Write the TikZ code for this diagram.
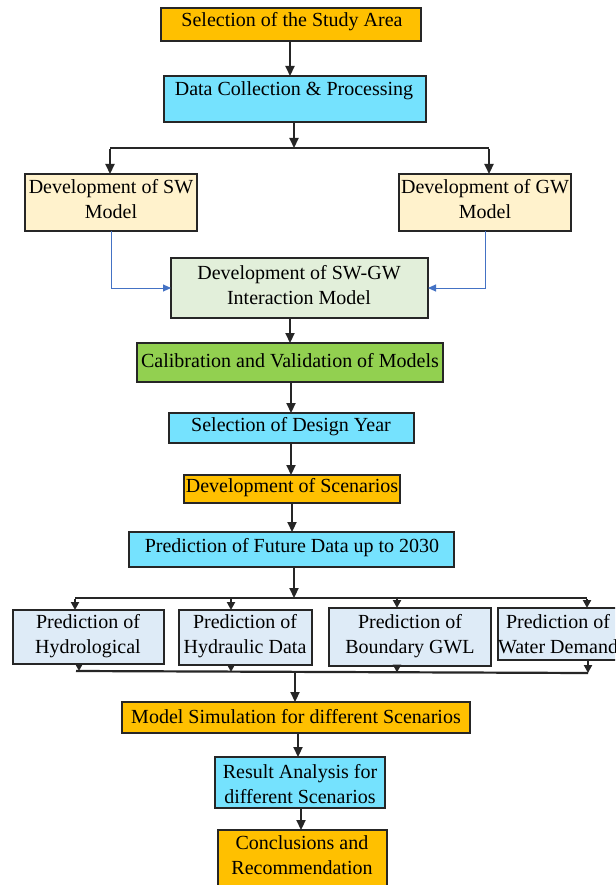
\documentclass[tikz,border=0pt]{standalone}
\usepackage{fontspec}
\setmainfont{Liberation Serif}
\usetikzlibrary{arrows.meta,calc}
\definecolor{orng}{HTML}{FFC000}
\definecolor{cyanbox}{HTML}{75E2FE}
\definecolor{creambox}{HTML}{FFF2CC}
\definecolor{greenlt}{HTML}{E2EFDA}
\definecolor{greenmd}{HTML}{92D050}
\definecolor{bluelt}{HTML}{DEEBF7}
\definecolor{bluearr}{HTML}{4472C4}
\definecolor{edge}{HTML}{262626}
\begin{document}
\begin{tikzpicture}[x=1pt,y=-1pt,
 box/.style={draw=edge,line width=1.3pt,inner sep=0pt,outer sep=0pt},
 txt/.style={font=\fontsize{20}{25}\selectfont,align=center,inner sep=0pt,text=black},
 arr/.style={draw=edge,line width=2.2pt,-{Triangle[length=10pt,width=9pt]}},
 sarr/.style={draw=edge,line width=2pt,-{Triangle[length=8pt,width=8pt]}},
 ln/.style={draw=edge,line width=2.6pt},
 barr/.style={draw=bluearr,line width=0.9pt,-{Triangle[length=8pt,width=7pt]}}]
\useasboundingbox (0,0) rectangle (615,885);
\fill[white] (0,0) rectangle (615,885);
\clip (0,0) rectangle (615,885);
% boxes
\node[box,fill=orng,minimum width=260pt,minimum height=33pt] (b1) at (291,24.5) {};
\node[box,fill=cyanbox,minimum width=262pt,minimum height=46pt] (b2) at (295,99) {};
\node[box,fill=creambox,minimum width=172pt,minimum height=57pt] (bsw) at (111,202.5) {};
\node[box,fill=creambox,minimum width=172pt,minimum height=57pt] (bgw) at (485,202.5) {};
\node[box,fill=greenlt,minimum width=257pt,minimum height=60pt] (bint) at (299.5,288) {};
\node[box,fill=greenmd,minimum width=306pt,minimum height=39pt] (bcal) at (290,362.5) {};
\node[box,fill=cyanbox,minimum width=245pt,minimum height=30pt] (byear) at (291.5,428) {};
\node[box,fill=orng,minimum width=216pt,minimum height=28pt] (bscen) at (292,489) {};
\node[box,fill=cyanbox,minimum width=325pt,minimum height=35pt] (bfut) at (291.5,549.5) {};
\node[box,fill=bluelt,minimum width=151pt,minimum height=54pt] (p1) at (88.5,637) {};
\node[box,fill=bluelt,minimum width=133pt,minimum height=55pt] (p2) at (245.5,637.5) {};
\node[box,fill=bluelt,minimum width=162pt,minimum height=58pt] (p3) at (410,637) {};
\node[box,fill=bluelt,minimum width=120pt,minimum height=52pt] (p4) at (558,634) {};
\node[box,fill=orng,minimum width=348pt,minimum height=31pt] (bsim) at (296,717.5) {};
\node[box,fill=cyanbox,minimum width=170pt,minimum height=51pt] (bres) at (300,782.5) {};
\node[box,fill=orng,minimum width=169pt,minimum height=65pt] (bcon) at (302.5,862.5) {};
% texts
\node[txt] (t1) at (292,22) {Selection of the Study Area};
\node[txt] (t2) at (294,91) {Data Collection \& Processing};
\node[txt] (tsw) at (111,199) {Development of SW\\Model};
\node[txt] (tgw) at (485,199) {Development of GW\\Model};
\node[txt] (tint) at (299,285) {Development of SW-GW\\Interaction Model};
\node[txt] (tcal) at (290,361) {Calibration and Validation of Models};
\node[txt] (tyear) at (291,427) {Selection of Design Year};
\node[txt] (tscen) at (292,488) {Development of Scenarios};
\node[txt] (tfut) at (292,548) {Prediction of Future Data up to 2030};
\node[txt] (tp1) at (88,636) {Prediction of\\Hydrological};
\node[txt] (tp2) at (245,636) {Prediction of\\Hydraulic Data};
\node[txt] (tp3) at (410,636) {Prediction of\\Boundary GWL};
\node[txt] (tp4) at (558,634) {Prediction of\\Water Demand};
\node[txt] (tsim) at (296,717) {Model Simulation for different Scenarios};
\node[txt] (tres) at (300,784) {Result Analysis for\\different Scenarios};
\node[txt] (tcon) at (302,855) {Conclusions and\\Recommendation};
% connectors
\draw[arr] (b1.south -| 290,0) -- (290,0 |- b2.north);
\coordinate (j1) at (294,148);
\coordinate (jL) at (110,148);
\coordinate (jR) at (489,148);
\draw[arr] (b2.south -| j1) -- (j1);
\draw[ln] (jL) -- (jR);
\draw[arr] ([yshift=-1.3pt]jL) -- (jL |- bsw.north);
\draw[arr] ([yshift=-1.3pt]jR) -- (jR |- bgw.north);
\draw[barr] (bsw.south) |- (bint.west);
\draw[barr] (bgw.south) |- (bint.east);
\draw[arr] (bint.south -| bcal.north) -- (bcal.north);
\draw[arr] (bcal.south -| 291,0) -- (291,0 |- byear.north);
\draw[arr] (byear.south -| 291,0) -- (291,0 |- bscen.north);
\draw[arr] (bscen.south -| 292,0) -- (292,0 |- bfut.north);
\coordinate (k1) at (294,598);
\coordinate (kA) at (75,598);
\coordinate (kB) at (231,598);
\coordinate (kC) at (397,598);
\coordinate (kD) at (587,598);
\draw[arr] (bfut.south -| k1) -- (k1);
\draw[ln,line width=2.2pt] (kA) -- (kD);
\draw[sarr] ([yshift=-1pt]kA) -- (kA |- p1.north);
\draw[sarr] ([yshift=-1pt]kB) -- (kB |- p2.north);
\draw[sarr] ([yshift=-1pt]kC) -- (kC |- p3.north);
\draw[sarr] ([yshift=-1pt]kD) -- (kD |- p4.north);
\coordinate (mA) at (79,671);
\coordinate (mB) at (231,672);
\coordinate (mC) at (397,672.5);
\coordinate (mD) at (588,673);
\coordinate (m0) at (295,672);
\draw[sarr] (p1.south -| mA) -- (mA);
\draw[sarr] (p2.south -| mB) -- (mB);
\draw[sarr] (p3.south -| mC) -- (mC);
\draw[sarr] (p4.south -| mD) -- (mD);
\draw[ln,line width=2.2pt] (76,671) -- (mD);
\draw[arr] (m0) -- (m0 |- bsim.north);
\draw[arr] (bsim.south -| 298,0) -- (298,0 |- bres.north);
\draw[arr] (bres.south -| 301,0) -- (301,0 |- bcon.north);
\end{tikzpicture}
\end{document}
